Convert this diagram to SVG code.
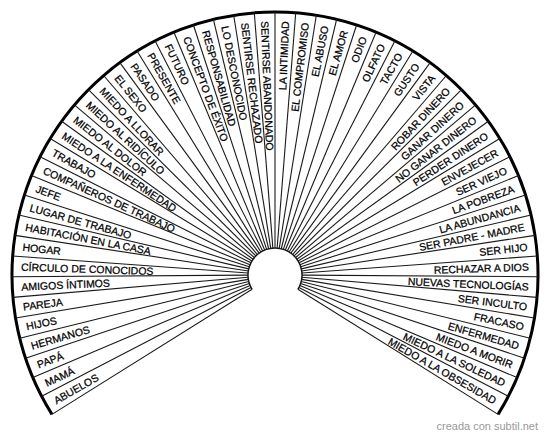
<svg xmlns="http://www.w3.org/2000/svg" width="550" height="438" viewBox="0 0 550 438">
<style>
.bg{fill:#fff}
.ray{stroke:#1a1a1a;stroke-width:1.1;fill:none}
.outer{stroke:#000;stroke-width:3;fill:none}
.inner{stroke:#1a1a1a;stroke-width:1.5;fill:none}
.lbl{font-family:"Liberation Sans",Arial,sans-serif;font-size:10.5px;fill:#000;stroke:#000;stroke-width:0.25;dominant-baseline:central}
.l{text-anchor:start}
.r{text-anchor:end}
.credit{font-family:"Liberation Sans",Arial,sans-serif;font-size:11px;fill:#999;text-anchor:end}
</style>
<rect class="bg" x="0" y="0" width="550" height="438"/>
<g id="connectors">
<path class="outer" d="M51.96 414.37 A263 263 0 1 1 498.04 414.37"/>
<path class="inner" d="M252.10 289.31 A27 27 0 1 1 297.90 289.31"/>
<g class="ray">
<line x1="302" y1="275" x2="538" y2="275" transform="rotate(-212 275 275)"/>
<line x1="302" y1="275" x2="538" y2="275" transform="rotate(-207.481 275 275)"/>
<line x1="302" y1="275" x2="538" y2="275" transform="rotate(-202.963 275 275)"/>
<line x1="302" y1="275" x2="538" y2="275" transform="rotate(-198.444 275 275)"/>
<line x1="302" y1="275" x2="538" y2="275" transform="rotate(-193.926 275 275)"/>
<line x1="302" y1="275" x2="538" y2="275" transform="rotate(-189.407 275 275)"/>
<line x1="302" y1="275" x2="538" y2="275" transform="rotate(-184.889 275 275)"/>
<line x1="302" y1="275" x2="538" y2="275" transform="rotate(-180.370 275 275)"/>
<line x1="302" y1="275" x2="538" y2="275" transform="rotate(-175.852 275 275)"/>
<line x1="302" y1="275" x2="538" y2="275" transform="rotate(-171.333 275 275)"/>
<line x1="302" y1="275" x2="538" y2="275" transform="rotate(-166.815 275 275)"/>
<line x1="302" y1="275" x2="538" y2="275" transform="rotate(-162.296 275 275)"/>
<line x1="302" y1="275" x2="538" y2="275" transform="rotate(-157.778 275 275)"/>
<line x1="302" y1="275" x2="538" y2="275" transform="rotate(-153.259 275 275)"/>
<line x1="302" y1="275" x2="538" y2="275" transform="rotate(-148.741 275 275)"/>
<line x1="302" y1="275" x2="538" y2="275" transform="rotate(-144.222 275 275)"/>
<line x1="302" y1="275" x2="538" y2="275" transform="rotate(-139.704 275 275)"/>
<line x1="302" y1="275" x2="538" y2="275" transform="rotate(-135.185 275 275)"/>
<line x1="302" y1="275" x2="538" y2="275" transform="rotate(-130.667 275 275)"/>
<line x1="302" y1="275" x2="538" y2="275" transform="rotate(-126.148 275 275)"/>
<line x1="302" y1="275" x2="538" y2="275" transform="rotate(-121.630 275 275)"/>
<line x1="302" y1="275" x2="538" y2="275" transform="rotate(-117.111 275 275)"/>
<line x1="302" y1="275" x2="538" y2="275" transform="rotate(-112.593 275 275)"/>
<line x1="302" y1="275" x2="538" y2="275" transform="rotate(-108.074 275 275)"/>
<line x1="302" y1="275" x2="538" y2="275" transform="rotate(-103.556 275 275)"/>
<line x1="302" y1="275" x2="538" y2="275" transform="rotate(-99.037 275 275)"/>
<line x1="302" y1="275" x2="538" y2="275" transform="rotate(-94.519 275 275)"/>
<line x1="302" y1="275" x2="538" y2="275" transform="rotate(-90 275 275)"/>
<line x1="302" y1="275" x2="538" y2="275" transform="rotate(-85.481 275 275)"/>
<line x1="302" y1="275" x2="538" y2="275" transform="rotate(-80.963 275 275)"/>
<line x1="302" y1="275" x2="538" y2="275" transform="rotate(-76.444 275 275)"/>
<line x1="302" y1="275" x2="538" y2="275" transform="rotate(-71.926 275 275)"/>
<line x1="302" y1="275" x2="538" y2="275" transform="rotate(-67.407 275 275)"/>
<line x1="302" y1="275" x2="538" y2="275" transform="rotate(-62.889 275 275)"/>
<line x1="302" y1="275" x2="538" y2="275" transform="rotate(-58.370 275 275)"/>
<line x1="302" y1="275" x2="538" y2="275" transform="rotate(-53.852 275 275)"/>
<line x1="302" y1="275" x2="538" y2="275" transform="rotate(-49.333 275 275)"/>
<line x1="302" y1="275" x2="538" y2="275" transform="rotate(-44.815 275 275)"/>
<line x1="302" y1="275" x2="538" y2="275" transform="rotate(-40.296 275 275)"/>
<line x1="302" y1="275" x2="538" y2="275" transform="rotate(-35.778 275 275)"/>
<line x1="302" y1="275" x2="538" y2="275" transform="rotate(-31.259 275 275)"/>
<line x1="302" y1="275" x2="538" y2="275" transform="rotate(-26.741 275 275)"/>
<line x1="302" y1="275" x2="538" y2="275" transform="rotate(-22.222 275 275)"/>
<line x1="302" y1="275" x2="538" y2="275" transform="rotate(-17.704 275 275)"/>
<line x1="302" y1="275" x2="538" y2="275" transform="rotate(-13.185 275 275)"/>
<line x1="302" y1="275" x2="538" y2="275" transform="rotate(-8.667 275 275)"/>
<line x1="302" y1="275" x2="538" y2="275" transform="rotate(-4.148 275 275)"/>
<line x1="302" y1="275" x2="538" y2="275" transform="rotate(0.370 275 275)"/>
<line x1="302" y1="275" x2="538" y2="275" transform="rotate(4.889 275 275)"/>
<line x1="302" y1="275" x2="538" y2="275" transform="rotate(9.407 275 275)"/>
<line x1="302" y1="275" x2="538" y2="275" transform="rotate(13.926 275 275)"/>
<line x1="302" y1="275" x2="538" y2="275" transform="rotate(18.444 275 275)"/>
<line x1="302" y1="275" x2="538" y2="275" transform="rotate(22.963 275 275)"/>
<line x1="302" y1="275" x2="538" y2="275" transform="rotate(27.481 275 275)"/>
<line x1="302" y1="275" x2="538" y2="275" transform="rotate(32 275 275)"/>
</g>
</g>
<g id="n0"><text class="lbl l" x="21" y="275" transform="rotate(-29.741 275 275)">ABUELOS</text></g>
<g id="n1"><text class="lbl l" x="21" y="275" transform="rotate(-25.222 275 275)">MAMÁ</text></g>
<g id="n2"><text class="lbl l" x="21" y="275" transform="rotate(-20.704 275 275)">PAPÁ</text></g>
<g id="n3"><text class="lbl l" x="21" y="275" transform="rotate(-16.185 275 275)">HERMANOS</text></g>
<g id="n4"><text class="lbl l" x="21" y="275" transform="rotate(-11.667 275 275)">HIJOS</text></g>
<g id="n5"><text class="lbl l" x="21" y="275" transform="rotate(-7.148 275 275)">PAREJA</text></g>
<g id="n6"><text class="lbl l" x="21" y="275" transform="rotate(-2.630 275 275)">AMIGOS ÍNTIMOS</text></g>
<g id="n7"><text class="lbl l" x="21" y="275" transform="rotate(1.889 275 275)">CÍRCULO DE CONOCIDOS</text></g>
<g id="n8"><text class="lbl l" x="21" y="275" transform="rotate(6.407 275 275)">HOGAR</text></g>
<g id="n9"><text class="lbl l" x="21" y="275" transform="rotate(10.926 275 275)">HABITACIÓN EN LA CASA</text></g>
<g id="n10"><text class="lbl l" x="21" y="275" transform="rotate(15.444 275 275)">LUGAR DE TRABAJO</text></g>
<g id="n11"><text class="lbl l" x="21" y="275" transform="rotate(19.963 275 275)">JEFE</text></g>
<g id="n12"><text class="lbl l" x="21" y="275" transform="rotate(24.481 275 275)">COMPAÑEROS DE TRABAJO</text></g>
<g id="n13"><text class="lbl l" x="21" y="275" transform="rotate(29.000 275 275)">TRABAJO</text></g>
<g id="n14"><text class="lbl l" x="21" y="275" transform="rotate(33.519 275 275)">MIEDO A LA ENFERMEDAD</text></g>
<g id="n15"><text class="lbl l" x="21" y="275" transform="rotate(38.037 275 275)">MIEDO AL DOLOR</text></g>
<g id="n16"><text class="lbl l" x="21" y="275" transform="rotate(42.556 275 275)">MIEDO AL RIDÍCULO</text></g>
<g id="n17"><text class="lbl l" x="21" y="275" transform="rotate(47.074 275 275)">MIEDO A LLORAR</text></g>
<g id="n18"><text class="lbl l" x="21" y="275" transform="rotate(51.593 275 275)">EL SEXO</text></g>
<g id="n19"><text class="lbl l" x="21" y="275" transform="rotate(56.111 275 275)">PASADO</text></g>
<g id="n20"><text class="lbl l" x="21" y="275" transform="rotate(60.630 275 275)">PRESENTE</text></g>
<g id="n21"><text class="lbl l" x="21" y="275" transform="rotate(65.148 275 275)">FUTURO</text></g>
<g id="n22"><text class="lbl l" x="21" y="275" transform="rotate(69.667 275 275)">CONCEPTO DE ÉXITO</text></g>
<g id="n23"><text class="lbl l" x="21" y="275" transform="rotate(74.185 275 275)">RESPONSABILIDAD</text></g>
<g id="n24"><text class="lbl l" x="21" y="275" transform="rotate(78.704 275 275)">LO DESCONOCIDO</text></g>
<g id="n25"><text class="lbl l" x="21" y="275" transform="rotate(83.222 275 275)">SENTIRSE RECHAZADO</text></g>
<g id="n26"><text class="lbl l" x="21" y="275" transform="rotate(87.741 275 275)">SENTIRSE ABANDONADO</text></g>
<g id="n27"><text class="lbl r" x="529" y="275" transform="rotate(-87.741 275 275)">LA INTIMIDAD</text></g>
<g id="n28"><text class="lbl r" x="529" y="275" transform="rotate(-83.222 275 275)">EL COMPROMISO</text></g>
<g id="n29"><text class="lbl r" x="529" y="275" transform="rotate(-78.704 275 275)">EL ABUSO</text></g>
<g id="n30"><text class="lbl r" x="529" y="275" transform="rotate(-74.185 275 275)">EL AMOR</text></g>
<g id="n31"><text class="lbl r" x="529" y="275" transform="rotate(-69.667 275 275)">ODIO</text></g>
<g id="n32"><text class="lbl r" x="529" y="275" transform="rotate(-65.148 275 275)">OLFATO</text></g>
<g id="n33"><text class="lbl r" x="529" y="275" transform="rotate(-60.630 275 275)">TACTO</text></g>
<g id="n34"><text class="lbl r" x="529" y="275" transform="rotate(-56.111 275 275)">GUSTO</text></g>
<g id="n35"><text class="lbl r" x="529" y="275" transform="rotate(-51.593 275 275)">VISTA</text></g>
<g id="n36"><text class="lbl r" x="529" y="275" transform="rotate(-47.074 275 275)">ROBAR DINERO</text></g>
<g id="n37"><text class="lbl r" x="529" y="275" transform="rotate(-42.556 275 275)">GANAR DINERO</text></g>
<g id="n38"><text class="lbl r" x="529" y="275" transform="rotate(-38.037 275 275)">NO GANAR DINERO</text></g>
<g id="n39"><text class="lbl r" x="529" y="275" transform="rotate(-33.519 275 275)">PERDER DINERO</text></g>
<g id="n40"><text class="lbl r" x="529" y="275" transform="rotate(-29.000 275 275)">ENVEJECER</text></g>
<g id="n41"><text class="lbl r" x="529" y="275" transform="rotate(-24.481 275 275)">SER VIEJO</text></g>
<g id="n42"><text class="lbl r" x="529" y="275" transform="rotate(-19.963 275 275)">LA POBREZA</text></g>
<g id="n43"><text class="lbl r" x="529" y="275" transform="rotate(-15.444 275 275)">LA ABUNDANCIA</text></g>
<g id="n44"><text class="lbl r" x="529" y="275" transform="rotate(-10.926 275 275)">SER PADRE - MADRE</text></g>
<g id="n45"><text class="lbl r" x="529" y="275" transform="rotate(-6.407 275 275)">SER HIJO</text></g>
<g id="n46"><text class="lbl r" x="529" y="275" transform="rotate(-1.889 275 275)">RECHAZAR A DIOS</text></g>
<g id="n47"><text class="lbl r" x="529" y="275" transform="rotate(2.630 275 275)">NUEVAS TECNOLOGÍAS</text></g>
<g id="n48"><text class="lbl r" x="529" y="275" transform="rotate(7.148 275 275)">SER INCULTO</text></g>
<g id="n49"><text class="lbl r" x="529" y="275" transform="rotate(11.667 275 275)">FRACASO</text></g>
<g id="n50"><text class="lbl r" x="529" y="275" transform="rotate(16.185 275 275)">ENFERMEDAD</text></g>
<g id="n51"><text class="lbl r" x="529" y="275" transform="rotate(20.704 275 275)">MIEDO A MORIR</text></g>
<g id="n52"><text class="lbl r" x="529" y="275" transform="rotate(25.222 275 275)">MIEDO A LA SOLEDAD</text></g>
<g id="n53"><text class="lbl r" x="529" y="275" transform="rotate(29.741 275 275)">MIEDO A LA OBSESIDAD</text></g>
<text class="credit" x="538" y="430">creada con subtil.net</text>
</svg>
